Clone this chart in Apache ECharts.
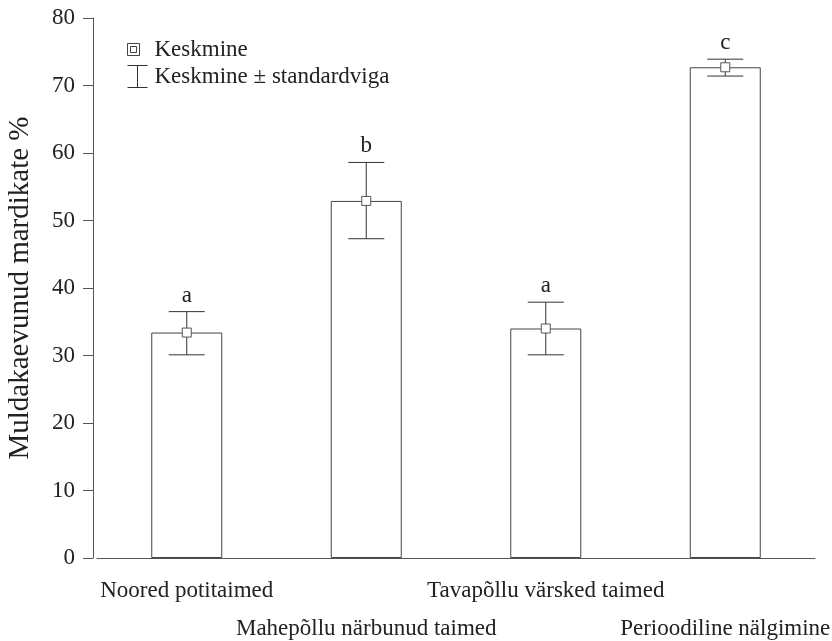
<!DOCTYPE html>
<html>
<head>
<meta charset="utf-8">
<script src="https://cdn.jsdelivr.net/npm/echarts@6/dist/echarts.min.js"></script>
<style>
  html, body { margin: 0; padding: 0; background: #fff; }
  #chart { width: 832px; height: 641px; }
</style>
</head>
<body>
<div id="chart"></div>
<script>
var categories = ['Noored potitaimed', 'Mahepõllu närbunud taimed', 'Tavapõllu värsked taimed', 'Perioodiline nälgimine'];
var means = [33.4, 52.9, 34.0, 72.7];
var lower = [30.1, 47.3, 30.1, 71.4];
var upper = [36.5, 58.6, 37.9, 73.9];
var letters = ['a', 'b', 'a', 'c'];

var font = 'Liberation Serif';
var axisColor = '#555';
var textColor = '#222';

var errData = [];
for (var i = 0; i < categories.length; i++) {
    errData.push([i, means[i], lower[i], upper[i]]);
}

function renderErr(params, api) {
    var x = api.value(0);
    var lo = api.coord([x, api.value(2)]);
    var hi = api.coord([x, api.value(3)]);
    var half = 18;
    var st = { stroke: '#333', lineWidth: 1 };
    return {
        type: 'group',
        children: [
            { type: 'line', shape: { x1: hi[0], y1: hi[1], x2: lo[0], y2: lo[1] }, style: st },
            { type: 'line', shape: { x1: hi[0] - half, y1: hi[1], x2: hi[0] + half, y2: hi[1] }, style: st },
            { type: 'line', shape: { x1: lo[0] - half, y1: lo[1], x2: lo[0] + half, y2: lo[1] }, style: st },
            {
                type: 'text', x: hi[0], y: hi[1] - 16,
                style: {
                    text: letters[params.dataIndex], fill: textColor,
                    font: '23px "' + font + '"', align: 'center', verticalAlign: 'middle'
                }
            }
        ]
    };
}

var myChart = echarts.init(document.getElementById('chart'));
var option = {
    animation: false,
    textStyle: { fontFamily: font, color: textColor },
    grid: { left: 97, right: 17, top: 18, bottom: 83, outerBoundsMode: 'none', containLabel: false },
    legend: [
        {
            left: 127, top: 38, padding: 0, orient: 'vertical',
            itemWidth: 12, itemHeight: 12,
            textStyle: { fontFamily: font, fontSize: 23, color: textColor, padding: [0, 0, 0, 10] },
            data: [{
                name: 'Keskmine',
                icon: 'path://M0,0H12V12H0Z M3,3H9V9H3Z',
                itemStyle: { color: '#fff', borderColor: '#444', borderWidth: 1 }
            }]
        },
        {
            left: 127, top: 65, padding: 0, orient: 'vertical',
            itemWidth: 20, itemHeight: 22,
            textStyle: { fontFamily: font, fontSize: 23, color: textColor, padding: [2, 0, 0, 2] },
            data: [{
                name: 'Keskmine ± standardviga',
                icon: 'path://M0,0H20M10,0V22M0,22H20',
                itemStyle: { color: 'rgba(0,0,0,0)', borderColor: '#333', borderWidth: 1 }
            }]
        }
    ],
    xAxis: {
        type: 'category',
        data: categories,
        axisLine: { lineStyle: { color: axisColor } },
        axisTick: { alignWithLabel: true, length: 10, lineStyle: { color: axisColor } },
        axisLabel: {
            interval: 0, margin: 14, fontSize: 23, lineHeight: 38,
            fontFamily: font, color: textColor,
            formatter: function (v, idx) { return idx % 2 ? '\n' + v : v; }
        }
    },
    yAxis: {
        type: 'value',
        min: 0, max: 80, interval: 10,
        offset: 4,
        name: 'Muldakaevunud mardikate %',
        nameLocation: 'middle',
        nameGap: 58,
        nameTextStyle: { fontSize: 29, fontFamily: font, color: textColor },
        axisLine: { show: true, lineStyle: { color: axisColor } },
        axisTick: { show: true, length: 10, lineStyle: { color: axisColor } },
        axisLabel: { fontSize: 23, fontFamily: font, color: textColor, margin: 18 },
        splitLine: { show: false }
    },
    series: [
        {
            name: 'bars',
            type: 'bar',
            data: means,
            barWidth: 71,
            silent: true,
            itemStyle: { color: '#fff', borderColor: '#444', borderWidth: 1 }
        },
        {
            name: 'Keskmine ± standardviga',
            type: 'custom',
            renderItem: renderErr,
            data: errData,
            z: 3,
            silent: true
        },
        {
            name: 'Keskmine',
            type: 'scatter',
            data: means,
            symbol: 'rect',
            symbolSize: 9,
            z: 4,
            silent: true,
            itemStyle: { color: '#fff', borderColor: '#555', borderWidth: 1, opacity: 1 }
        }
    ]
};
myChart.setOption(option);
</script>
</body>
</html>
